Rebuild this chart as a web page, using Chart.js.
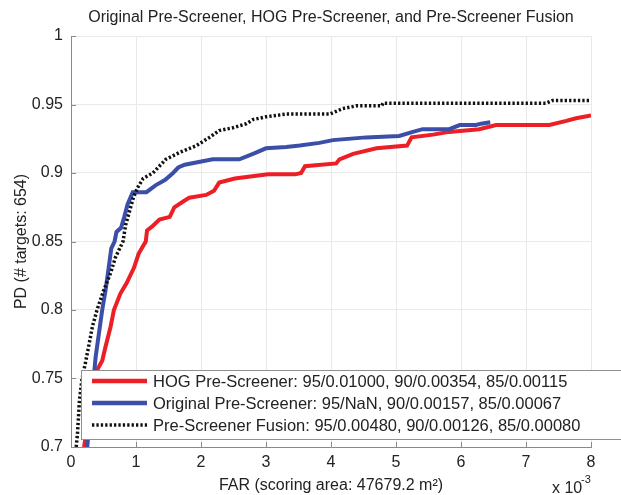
<!DOCTYPE html>
<html>
<head>
<meta charset="utf-8">
<script src="https://cdn.jsdelivr.net/npm/chart.js@4.4.1/dist/chart.umd.min.js"></script>
<style>
  html, body { margin: 0; padding: 0; background: #fff; }
</style>
</head>
<body>
<canvas id="myChart" width="621" height="495"></canvas>
<script>
// FAR in units of 1e-3, PD as a fraction
var hogFar = [0.20, 0.40, 0.48, 0.53, 0.61, 0.66, 0.76, 0.86, 0.97, 1.04, 1.10, 1.15, 1.17, 1.25, 1.36, 1.52, 1.59, 1.72, 1.82, 2.08, 2.20, 2.28, 2.52, 3.03, 3.45, 3.54, 3.60, 4.08, 4.13, 4.34, 4.70, 5.17, 5.24, 5.57, 5.82, 6.28, 6.54, 7.36, 7.62, 7.77, 8.00];
var hogPd  = [0.700, 0.756, 0.763, 0.773, 0.788, 0.800, 0.812, 0.820, 0.831, 0.841, 0.846, 0.850, 0.858, 0.861, 0.866, 0.868, 0.875, 0.879, 0.882, 0.884, 0.887, 0.893, 0.896, 0.899, 0.899, 0.900, 0.905, 0.907, 0.910, 0.914, 0.918, 0.920, 0.926, 0.928, 0.930, 0.932, 0.935, 0.935, 0.938, 0.940, 0.942];

var origFar = [0.25, 0.35, 0.38, 0.43, 0.48, 0.53, 0.58, 0.62, 0.67, 0.70, 0.77, 0.82, 0.87, 0.95, 1.16, 1.30, 1.45, 1.57, 1.65, 1.75, 2.18, 2.59, 2.80, 3.00, 3.31, 3.52, 3.82, 4.03, 4.54, 5.05, 5.26, 5.41, 5.82, 5.98, 6.23, 6.31, 6.45];
var origPd  = [0.700, 0.751, 0.766, 0.783, 0.800, 0.814, 0.831, 0.845, 0.850, 0.857, 0.860, 0.868, 0.877, 0.886, 0.886, 0.891, 0.895, 0.900, 0.904, 0.906, 0.910, 0.910, 0.914, 0.918, 0.919, 0.920, 0.922, 0.924, 0.926, 0.927, 0.930, 0.932, 0.932, 0.935, 0.935, 0.936, 0.937];

var fusionFar = [0.08, 0.10, 0.13, 0.17, 0.22, 0.27, 0.33, 0.40, 0.50, 0.61, 0.68, 0.80, 0.84, 0.90, 0.96, 1.02, 1.11, 1.26, 1.46, 1.67, 1.93, 2.13, 2.28, 2.49, 2.70, 2.80, 3.00, 3.31, 3.98, 4.18, 4.39, 4.78, 4.80, 7.31, 7.41, 8.00];
var fusionPd  = [0.700, 0.710, 0.734, 0.750, 0.761, 0.773, 0.788, 0.800, 0.814, 0.827, 0.838, 0.850, 0.862, 0.872, 0.882, 0.889, 0.896, 0.900, 0.910, 0.915, 0.920, 0.926, 0.931, 0.933, 0.936, 0.939, 0.941, 0.943, 0.943, 0.947, 0.949, 0.949, 0.951, 0.951, 0.953, 0.953];

var xTickLabels = ['0', '1', '2', '3', '4', '5', '6', '7', '8'];
var yTickLabels = ['0.7', '0.75', '0.8', '0.85', '0.9', '0.95', '1'];

var chartTitle = 'Original Pre-Screener, HOG Pre-Screener, and Pre-Screener Fusion';
var legendLabels = [
    'HOG Pre-Screener: 95/0.01000, 90/0.00354, 85/0.00115',
    'Original Pre-Screener: 95/NaN, 90/0.00157, 85/0.00067',
    'Pre-Screener Fusion: 95/0.00480, 90/0.00126, 85/0.00080'
];

var RED = '#ec1f26';
var BLUE = '#3b4ea8';
var BLACK = '#111111';
var DOTS = [2.3, 2.1];
var FONT = "'Liberation Sans', Arial, Helvetica, sans-serif";

function pts(xs, ys) {
    return xs.map(function (x, i) { return { x: x, y: ys[i] }; });
}

// title centred over the axes, not the whole canvas
var axesTitle = {
    id: 'axesTitle',
    afterDraw: function (chart) {
        var ctx = chart.ctx, a = chart.chartArea;
        ctx.save();
        ctx.fillStyle = '#222';
        ctx.font = '16px ' + FONT;
        ctx.textAlign = 'center';
        ctx.textBaseline = 'middle';
        ctx.fillText(chartTitle, (a.left + a.right) / 2, 18);
        ctx.restore();
    }
};

// MATLAB style ticks pointing into the axes
var innerTicks = {
    id: 'innerTicks',
    afterDatasetsDraw: function (chart) {
        var ctx = chart.ctx, a = chart.chartArea;
        var sx = chart.scales.x, sy = chart.scales.y;
        ctx.save();
        ctx.strokeStyle = '#8a8a8a';
        ctx.lineWidth = 1;
        ctx.beginPath();
        sx.ticks.forEach(function (t) {
            var px = Math.round(sx.getPixelForValue(t.value)) + 0.5;
            ctx.moveTo(px, a.bottom);
            ctx.lineTo(px, a.bottom - 5);
        });
        sy.ticks.forEach(function (t) {
            var py = Math.round(sy.getPixelForValue(t.value)) + 0.5;
            ctx.moveTo(a.left, py);
            ctx.lineTo(a.left + 5, py);
        });
        ctx.stroke();
        ctx.restore();
    }
};

// legend box sitting inside the plot, lower part
var boxLegend = {
    id: 'boxLegend',
    afterDraw: function (chart) {
        var ctx = chart.ctx;
        var x0 = 81.5, y0 = 370.5, w = 560, h = 69;
        ctx.save();
        ctx.fillStyle = '#ffffff';
        ctx.fillRect(x0, y0, w, h);
        ctx.strokeStyle = '#8f8f8f';
        ctx.lineWidth = 1;
        ctx.strokeRect(x0, y0, w, h);

        var styles = [
            { color: RED, width: 4.5, dash: [] },
            { color: BLUE, width: 4.5, dash: [] },
            { color: BLACK, width: 3.5, dash: DOTS }
        ];
        ctx.font = '16.5px ' + FONT;
        ctx.textBaseline = 'middle';
        for (var i = 0; i < legendLabels.length; i++) {
            var y = 381 + i * 22;
            ctx.beginPath();
            ctx.setLineDash(styles[i].dash);
            ctx.lineCap = 'butt';
            ctx.strokeStyle = styles[i].color;
            ctx.lineWidth = styles[i].width;
            ctx.moveTo(92, y);
            ctx.lineTo(147, y);
            ctx.stroke();
            ctx.setLineDash([]);
            ctx.fillStyle = '#222';
            ctx.fillText(legendLabels[i], 153, y + 1);
        }
        ctx.restore();
    }
};

// "x 10^-3" multiplier under the right end of the x axis
var exponentLabel = {
    id: 'exponentLabel',
    afterDraw: function (chart) {
        var ctx = chart.ctx;
        ctx.save();
        ctx.fillStyle = '#222';
        ctx.textBaseline = 'middle';
        ctx.font = '16px ' + FONT;
        ctx.fillText('x 10', 552, 489);
        ctx.font = '11px ' + FONT;
        ctx.fillText('-3', 581, 480);
        ctx.restore();
    }
};

var ctx = document.getElementById('myChart');

var myChart = new Chart(ctx, {
    type: 'line',
    data: {
        datasets: [{
            label: 'HOG Pre-Screener',
            data: pts(hogFar, hogPd),
            borderColor: RED,
            borderWidth: 4,
            order: 2
        }, {
            label: 'Original Pre-Screener',
            data: pts(origFar, origPd),
            borderColor: BLUE,
            borderWidth: 4,
            order: 1
        }, {
            label: 'Pre-Screener Fusion',
            data: pts(fusionFar, fusionPd),
            borderColor: BLACK,
            borderWidth: 3.5,
            borderDash: DOTS,
            borderCapStyle: 'butt',
            order: 0
        }]
    },
    options: {
        responsive: false,
        animation: false,
        elements: {
            point: { radius: 0 },
            line: { tension: 0, fill: false }
        },
        layout: {
            padding: { left: 0, right: 30, top: 36, bottom: 0 }
        },
        plugins: {
            legend: { display: false },
            tooltip: { enabled: false },
            title: { display: false }
        },
        scales: {
            x: {
                type: 'linear',
                min: 0,
                max: 8,
                afterFit: function (s) { s.height = 48; },
                ticks: {
                    stepSize: 1,
                    padding: 6,
                    color: '#222',
                    font: { family: FONT, size: 16 },
                    callback: function (v, i) { return xTickLabels[i]; }
                },
                grid: { color: '#e9e9e9', drawTicks: false },
                border: { color: '#8a8a8a' },
                title: {
                    display: true,
                    text: 'FAR (scoring area: 47679.2 m\u00b2)',
                    color: '#222',
                    font: { family: FONT, size: 16 },
                    padding: { top: 0, bottom: 0 }
                }
            },
            y: {
                min: 0.7,
                max: 1,
                afterFit: function (s) { s.width = 71; },
                ticks: {
                    stepSize: 0.05,
                    padding: 8,
                    color: '#222',
                    font: { family: FONT, size: 16 },
                    callback: function (v, i) { return yTickLabels[i]; }
                },
                grid: { color: '#e9e9e9', drawTicks: false },
                border: { color: '#8a8a8a' },
                title: {
                    display: true,
                    text: 'PD (# targets: 654)',
                    color: '#222',
                    font: { family: FONT, size: 16 },
                    padding: { top: 12, bottom: 0 }
                }
            }
        }
    },
    plugins: [axesTitle, innerTicks, boxLegend, exponentLabel]
});
</script>
</body>
</html>
